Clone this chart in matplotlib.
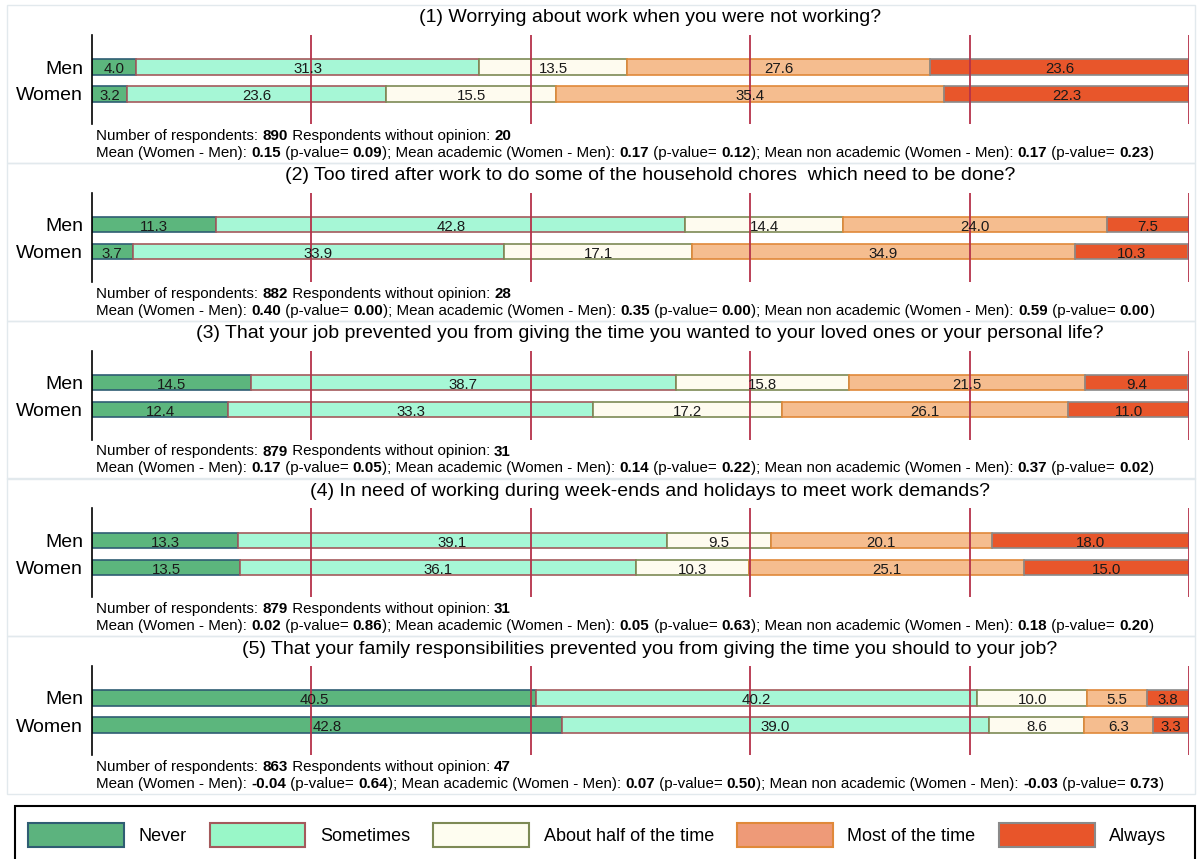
import matplotlib
matplotlib.use("Agg")
import matplotlib.pyplot as plt
from matplotlib.patches import Patch, Rectangle

plt.rcParams["font.family"] = ["Liberation Sans", "DejaVu Sans"]

# ---- data -------------------------------------------------------------
questions = [
    "(1) Worrying about work when you were not working?",
    "(2) Too tired after work to do some of the household chores  which need to be done?",
    "(3) That your job prevented you from giving the time you wanted to your loved ones or your personal life?",
    "(4) In need of working during week-ends and holidays to meet work demands?",
    "(5) That your family responsibilities prevented you from giving the time you should to your job?",
]
groups = ["Men", "Women"]
answers = ["Never", "Sometimes", "About half of the time", "Most of the time", "Always"]

men = [
    [4.0, 31.3, 13.5, 27.6, 23.6],
    [11.3, 42.8, 14.4, 24.0, 7.5],
    [14.5, 38.7, 15.8, 21.5, 9.4],
    [13.3, 39.1, 9.5, 20.1, 18.0],
    [40.5, 40.2, 10.0, 5.5, 3.8],
]
women = [
    [3.2, 23.6, 15.5, 35.4, 22.3],
    [3.7, 33.9, 17.1, 34.9, 10.3],
    [12.4, 33.3, 17.2, 26.1, 11.0],
    [13.5, 36.1, 10.3, 25.1, 15.0],
    [42.8, 39.0, 8.6, 6.3, 3.3],
]
n_resp = [890, 882, 879, 879, 863]
n_no_opinion = [20, 28, 31, 31, 47]
mean_diff = [0.15, 0.40, 0.17, 0.02, -0.04]
mean_p = [0.09, 0.00, 0.05, 0.86, 0.64]
acad_diff = [0.17, 0.35, 0.14, 0.05, 0.07]
acad_p = [0.12, 0.00, 0.22, 0.63, 0.50]
nonacad_diff = [0.17, 0.59, 0.37, 0.18, -0.03]
nonacad_p = [0.23, 0.00, 0.02, 0.20, 0.73]
grid_at = [20, 40, 60, 80, 100]

# ---- style ------------------------------------------------------------
bar_fill = ["#5cb67d", "#a6f7d6", "#fefbef", "#f5bd8f", "#e8562b"]
bar_edge = ["#2f5d73", "#a45a5c", "#7d8a55", "#e0893a", "#8a8a8a"]
leg_fill = ["#5cb37e", "#99f7c8", "#fefdf0", "#ee9a78", "#e8552a"]

W, H = 1201, 859
fig = plt.figure(figsize=(W / 100, H / 100), dpi=100)
fig.patch.set_facecolor("white")
renderer = fig.canvas.get_renderer()

X0, X1 = 92, 1189
ROW = 27.0
TOP_PAD, BOT_PAD = 32, 57
NOTE_SIZE = 10.9


def fx(px):
    return px / W


def fy(py):
    return 1 - py / H


def fmt(v):
    return f"{v:.2f}"


def text_width(s, weight, size):
    t = fig.text(0, 0, "|" + s + "|", fontsize=size, fontweight=weight)
    w1 = t.get_window_extent(renderer).width
    t.set_text("||")
    w2 = t.get_window_extent(renderer).width
    t.remove()
    return w1 - w2


def rich_line(x_px, y_px, pieces, size):
    # pieces alternate normal / bold, starting with normal
    x = x_px
    for j, s in enumerate(pieces):
        weight = "bold" if j % 2 else "normal"
        fig.text(fx(x), fy(y_px), s, ha="left", va="baseline", fontsize=size,
                 fontweight=weight, color="black")
        x += text_width(s, weight, size)


for i, q in enumerate(questions):
    men_y = 67 + 157.75 * i

    # light panel frame
    fig.patches.append(Rectangle((fx(7), fy(men_y + 96)), fx(1195) - fx(7),
                                 fy(men_y - 62) - fy(men_y + 96), transform=fig.transFigure,
                                 fill=False, edgecolor="#e2e9ed", lw=1.0, zorder=0))

    top, bot = men_y - TOP_PAD, men_y + BOT_PAD
    ax = fig.add_axes([fx(X0), fy(bot), fx(X1) - fx(X0), fy(top) - fy(bot)])
    ax.set_xlim(0, 100)
    ax.set_ylim(BOT_PAD / ROW, -TOP_PAD / ROW)

    for row, vals in enumerate([men[i], women[i]]):
        left = 0.0
        for k, v in enumerate(vals):
            ax.barh(row, v, left=left, height=0.56, color=bar_fill[k],
                    edgecolor=bar_edge[k], linewidth=1.2, zorder=2)
            ax.text(left + v / 2, row + 0.09, f"{v:.1f}", ha="center", va="center",
                    fontsize=10.8, color="#1a1a1a", zorder=4)
            left += v

    ax.vlines(grid_at, *ax.get_ylim(), color="#b5324a", lw=1.3, zorder=3)

    ax.set_yticks(range(len(groups)), labels=groups, fontsize=14)
    ax.tick_params(axis="y", length=0, pad=6.5)
    ax.set_xticks([])
    for side in ["top", "right", "bottom"]:
        ax.spines[side].set_visible(False)
    ax.spines["left"].set_linewidth(1.2)
    ax.spines["left"].set_color("black")
    ax.patch.set_alpha(0)

    fig.text(fx(650), fy(men_y - 49), q, ha="center", va="center", fontsize=14)

    line1 = ["Number of respondents: ", str(n_resp[i]),
             " Respondents without opinion: ", str(n_no_opinion[i])]
    line2 = ["Mean (Women - Men): ", fmt(mean_diff[i]),
             " (p-value= ", fmt(mean_p[i]),
             "); Mean academic (Women - Men): ", fmt(acad_diff[i]),
             " (p-value= ", fmt(acad_p[i]),
             "); Mean non academic (Women - Men): ", fmt(nonacad_diff[i]),
             " (p-value= ", fmt(nonacad_p[i]), ")"]
    rich_line(96, men_y + 73, line1, NOTE_SIZE)
    rich_line(96, men_y + 90, line2, NOTE_SIZE)

# ---- legend -----------------------------------------------------------
fig.patches.append(Rectangle((fx(15), fy(872)), fx(1195) - fx(15), fy(806) - fy(872),
                             transform=fig.transFigure, fill=False,
                             edgecolor="black", lw=1.5, zorder=1))
handles = [Patch(facecolor=leg_fill[k], edgecolor=bar_edge[k], linewidth=1.5, label=a)
           for k, a in enumerate(answers)]
fig.legend(handles=handles, ncol=5, loc="center left",
           bbox_to_anchor=(fx(28), fy(835)), fontsize=13, frameon=False,
           handlelength=5.3, handleheight=1.65, handletextpad=0.8,
           columnspacing=1.3, borderpad=0, borderaxespad=0)

fig.savefig("out.png", dpi=100)
